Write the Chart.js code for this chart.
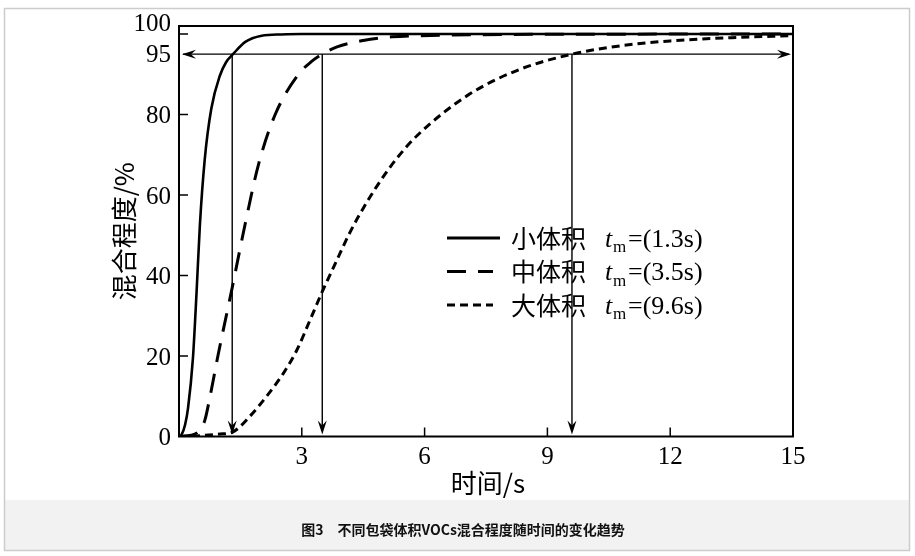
<!DOCTYPE html>
<html>
<head>
<meta charset="utf-8">
<script src="https://cdn.jsdelivr.net/npm/chart.js@4.4.1/dist/chart.umd.min.js"></script>
<style>
    html, body { margin: 0; padding: 0; background: #fff; }
    #wrap { width: 915px; height: 556px; position: relative; }
</style>
</head>
<body>
<div id="wrap"><canvas id="mixChart" width="915" height="556"></canvas></div>
<script>
// Values
const smallTime = [0, 0.06, 0.15, 0.22, 0.34, 0.43, 0.51, 0.63, 0.79, 1.0, 1.15, 1.32, 1.61, 2.02, 2.5, 3, 15];
const smallMix  = [0, 0.4, 3, 7, 19.4, 36, 52.5, 69, 81.5, 89.7, 93, 95, 98, 99.6, 99.9, 100, 100];

const mediumTime = [0, 0.3, 0.5, 0.63, 0.75, 0.95, 1.3, 1.61, 1.94, 2.35, 2.92, 3.24, 3.5, 3.86, 4.5, 5.2, 6.5, 8, 15];
const mediumMix  = [0, 0.3, 1.5, 4, 9.5, 20, 37, 52.5, 67.5, 80, 90, 93.2, 95, 96.8, 98.4, 99.3, 99.7, 99.9, 100];

const largeTime = [0, 0.5, 1.0, 1.31, 1.73, 2.14, 2.55, 2.88, 3.2, 3.5, 3.82, 4.18, 4.6, 5.0, 5.4, 5.82, 7.04, 8.27, 9.6, 10.8, 12, 13.5, 15];
const largeMix  = [0, 0.2, 0.6, 1.1, 5, 10, 15.7, 21.5, 28.9, 36, 43, 50.8, 58.4, 64.7, 70.1, 74.8, 84.7, 91, 95, 97.1, 98.3, 99.1, 99.6];

const seriesNames = ['小体积', '中体积', '大体积'];
const mixTimes = [1.3, 3.5, 9.6];   // t_m for each bag size
const mixLevel = 95;

const xTicks = [3, 6, 9, 12, 15];
const yTicks = [0, 20, 40, 60, 80, 95, 100];
const yTickMarks = [20, 40, 60, 80, 100];

const xTitle = '时间/s';
const yTitle = '混合程度/%';
const caption = '图3\u3000不同包袋体积VOCs混合程度随时间的变化趋势';

const SERIF = '"Liberation Serif", "DejaVu Serif", serif';
const CJK = '"Noto Sans CJK SC", "Noto Sans", sans-serif';

function toPoints(xs, ys) {
    return xs.map((x, i) => ({ x: x, y: ys[i] }));
}

// Filled arrow head with its tip at (x, y), pointing along (dx, dy)
function arrowHead(ctx, x, y, dx, dy) {
    const len = 14, half = 4.5, back = 9;
    const px = -dy, py = dx;
    ctx.beginPath();
    ctx.moveTo(x, y);
    ctx.lineTo(x - dx * len + px * half, y - dy * len + py * half);
    ctx.lineTo(x - dx * back, y - dy * back);
    ctx.lineTo(x - dx * len - px * half, y - dy * len - py * half);
    ctx.closePath();
    ctx.fill();
}

const figurePlugin = {
    id: 'figure',
    beforeDraw(chart) {
        const ctx = chart.ctx;
        ctx.save();
        ctx.fillStyle = '#ffffff';
        ctx.fillRect(0, 0, chart.width, chart.height);
        // caption band
        ctx.fillStyle = '#f2f2f2';
        ctx.fillRect(4, 500, 906, 51);
        ctx.strokeStyle = '#cccccc';
        ctx.lineWidth = 1.5;
        ctx.strokeRect(4.5, 8.5, 905, 542);
        ctx.fillStyle = '#111';
        ctx.font = 'bold 14px ' + CJK;
        ctx.textAlign = 'center';
        ctx.textBaseline = 'middle';
        ctx.fillText(caption, 463, 530);
        ctx.restore();
    },
    afterDatasetsDraw(chart) {
        const ctx = chart.ctx;
        const area = chart.chartArea;
        const xs = chart.scales.x;
        const ys = chart.scales.y;
        ctx.save();
        ctx.strokeStyle = '#000';
        ctx.fillStyle = '#000';

        // frame
        ctx.lineWidth = 2;
        ctx.strokeRect(area.left, area.top, area.right - area.left, area.bottom - area.top);

        // inward tick marks
        ctx.lineWidth = 1.5;
        ctx.beginPath();
        xTicks.forEach(v => {
            const px = xs.getPixelForValue(v);
            if (px < area.right - 2) {
                ctx.moveTo(px, area.bottom);
                ctx.lineTo(px, area.bottom - 9);
            }
        });
        yTickMarks.forEach(v => {
            const py = ys.getPixelForValue(v);
            ctx.moveTo(area.left, py);
            ctx.lineTo(area.left + 9, py);
        });
        ctx.stroke();

        // tick labels
        ctx.font = '25px ' + SERIF;
        ctx.textAlign = 'center';
        ctx.textBaseline = 'alphabetic';
        xTicks.forEach(v => {
            ctx.fillText(String(v), xs.getPixelForValue(v), area.bottom + 27);
        });
        ctx.textAlign = 'right';
        yTicks.forEach(v => {
            let py = ys.getPixelForValue(v) + 8.5;
            if (v === 100) py -= 12;
            if (v === 95) py -= 1;
            ctx.fillText(String(v), area.left - 8, py);
        });

        // axis titles
        ctx.font = '26px ' + CJK;
        ctx.textAlign = 'center';
        ctx.textBaseline = 'middle';
        ctx.fillText(xTitle, (area.left + area.right) / 2 + 2, area.bottom + 47);
        ctx.save();
        ctx.translate(124, (area.top + area.bottom) / 2);
        ctx.rotate(-Math.PI / 2);
        ctx.fillText(yTitle, 0, 0);
        ctx.restore();

        // 95 % level arrow and t_m arrows
        const yLevel = ys.getPixelForValue(mixLevel);
        ctx.lineWidth = 1.4;
        ctx.beginPath();
        ctx.moveTo(area.left + 4, yLevel);
        ctx.lineTo(area.right - 4, yLevel);
        mixTimes.forEach(t => {
            const px = xs.getPixelForValue(t);
            ctx.moveTo(px, yLevel);
            ctx.lineTo(px, area.bottom - 6);
        });
        ctx.stroke();
        arrowHead(ctx, area.left + 3, yLevel, -1, 0);
        arrowHead(ctx, area.right - 2, yLevel, 1, 0);
        mixTimes.forEach(t => {
            arrowHead(ctx, xs.getPixelForValue(t), area.bottom - 2, 0, 1);
        });

        // legend
        const rows = [238, 271.5, 305];
        chart.data.datasets.forEach((ds, i) => {
            const y = rows[i];
            ctx.save();
            ctx.lineWidth = 3;
            ctx.setLineDash(ds.borderDash || []);
            ctx.beginPath();
            ctx.moveTo(447, y);
            ctx.lineTo(i === 0 ? 500 : 493, y);
            ctx.stroke();
            ctx.restore();

            ctx.textAlign = 'left';
            ctx.textBaseline = 'middle';
            ctx.font = '25px ' + CJK;
            ctx.fillText(seriesNames[i], 511, y);
            ctx.font = 'italic 26px ' + SERIF;
            ctx.fillText('t', 605, y + 2);
            ctx.font = '17px ' + SERIF;
            ctx.fillText('m', 613, y + 10);
            ctx.font = '26px ' + SERIF;
            ctx.fillText('=(' + mixTimes[i] + 's)', 628, y + 2);
        });

        ctx.restore();
    }
};

const ctx = document.getElementById('mixChart').getContext('2d');
new Chart(ctx, {
    type: 'line',
    data: {
        datasets: [{
            label: seriesNames[0],
            data: toPoints(smallTime, smallMix),
            borderColor: '#000',
            borderWidth: 2.6,
            borderDash: [],
            pointRadius: 0,
            cubicInterpolationMode: 'monotone'
        }, {
            label: seriesNames[1],
            data: toPoints(mediumTime, mediumMix),
            borderColor: '#000',
            borderWidth: 3,
            borderDash: [19, 12],
            pointRadius: 0,
            cubicInterpolationMode: 'monotone'
        }, {
            label: seriesNames[2],
            data: toPoints(largeTime, largeMix),
            borderColor: '#000',
            borderWidth: 3,
            borderDash: [8, 5],
            pointRadius: 0,
            cubicInterpolationMode: 'monotone'
        }]
    },
    options: {
        responsive: false,
        animation: false,
        devicePixelRatio: 1,
        layout: {
            padding: { left: 179, right: 122, top: 26, bottom: 119.5 }
        },
        plugins: {
            legend: { display: false },
            tooltip: { enabled: false }
        },
        scales: {
            x: { type: 'linear', min: 0, max: 15, display: false },
            y: { type: 'linear', min: 0, max: 102, display: false }
        }
    },
    plugins: [figurePlugin]
});
</script>
</body>
</html>
